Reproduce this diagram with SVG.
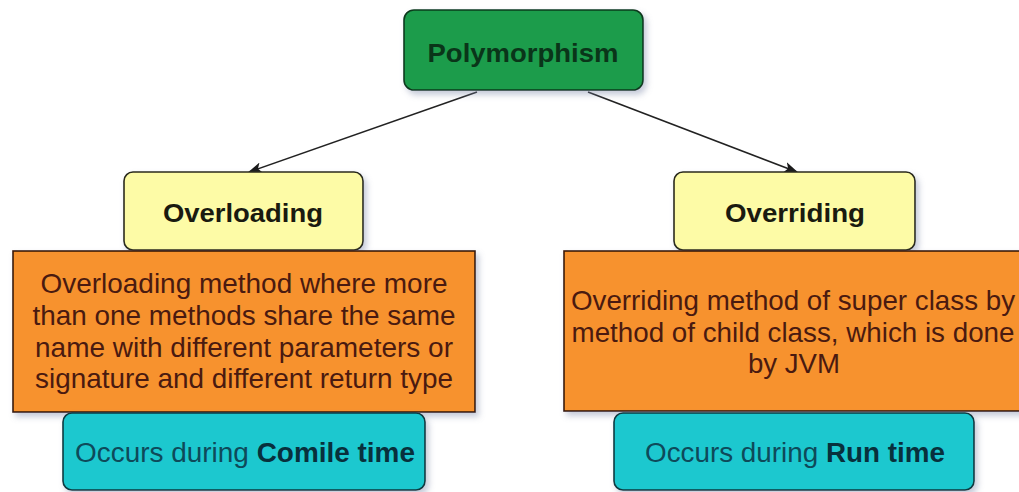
<svg xmlns="http://www.w3.org/2000/svg" width="1019" height="492" viewBox="0 0 1019 492">
  <defs>
    <filter id="sh" x="-10%" y="-10%" width="125%" height="135%">
      <feDropShadow dx="3" dy="4" stdDeviation="3" flood-color="#7a86a8" flood-opacity="0.45"/>
    </filter>
    <marker id="arr" viewBox="0 0 14 11" refX="13" refY="5.5" markerWidth="14" markerHeight="11" markerUnits="userSpaceOnUse" orient="auto">
      <path d="M0,0 L14,5.5 L0,11 L3.5,5.5 Z" fill="#1a1a1a"/>
    </marker>
    <style>
      .t { font-family: "Liberation Sans", Arial, sans-serif; text-anchor: middle; }
      .b { font-weight: bold; }
      .green { fill: #1f9c4c; stroke: #0c3a1c; stroke-width: 1.6; }
      .yellow { fill: #fdfba6; stroke: #2a2a1a; stroke-width: 1.6; }
      .orange { fill: #f7922f; stroke: #3a1a0a; stroke-width: 1.6; }
      .teal { fill: #1fc8cf; stroke: #0c3a40; stroke-width: 1.6; }
      .ot { fill: #4a1a10; font-size: 27.5px; }
      .tt { fill: #0e4a5a; font-size: 27px; }
      .ttb { fill: #08303c; font-weight: bold; }
      .conn { stroke: #222; stroke-width: 1.6; fill: none; }
    </style>
  </defs>
  <rect width="1019" height="492" fill="#ffffff"/>

  <g id="connectors">
    <line class="conn" x1="477" y1="92" x2="249" y2="172" marker-end="url(#arr)"/>
    <line class="conn" x1="588" y1="92" x2="797" y2="172" marker-end="url(#arr)"/>
  </g>

  <g id="polymorphism">
    <rect class="green" x="404" y="10" width="239" height="80" rx="10" filter="url(#sh)"/>
    <text class="t b" x="523" y="62" font-size="26" fill="#0a3519" textLength="191" lengthAdjust="spacingAndGlyphs">Polymorphism</text>
  </g>

  <g id="overloading">
    <rect class="yellow" x="124" y="172" width="239" height="78" rx="9" filter="url(#sh)"/>
    <text class="t b" x="243" y="222" font-size="26.5" fill="#1a1a10" textLength="160" lengthAdjust="spacingAndGlyphs">Overloading</text>
  </g>

  <g id="overriding">
    <rect class="yellow" x="674" y="172" width="241" height="78" rx="9" filter="url(#sh)"/>
    <text class="t b" x="795" y="222" font-size="26.5" fill="#1a1a10" textLength="140" lengthAdjust="spacingAndGlyphs">Overriding</text>
  </g>

  <g id="overloading-desc">
    <rect class="orange" x="13" y="251" width="462" height="161" filter="url(#sh)"/>
    <text class="t ot" x="244" y="293" textLength="407" lengthAdjust="spacingAndGlyphs">Overloading method where more</text>
    <text class="t ot" x="244" y="325" textLength="423" lengthAdjust="spacingAndGlyphs">than one methods share the same</text>
    <text class="t ot" x="244" y="357" textLength="418" lengthAdjust="spacingAndGlyphs">name with different parameters or</text>
    <text class="t ot" x="244" y="388" textLength="418" lengthAdjust="spacingAndGlyphs">signature and different return type</text>
  </g>

  <g id="overriding-desc">
    <rect class="orange" x="564" y="251" width="460" height="160" filter="url(#sh)"/>
    <text class="t ot" x="793" y="310" textLength="444" lengthAdjust="spacingAndGlyphs">Overriding method of super class by</text>
    <text class="t ot" x="793" y="342" textLength="443" lengthAdjust="spacingAndGlyphs">method of child class, which is done</text>
    <text class="t ot" x="794" y="373" textLength="92" lengthAdjust="spacingAndGlyphs">by JVM</text>
  </g>

  <g id="compile-time">
    <rect class="teal" x="63" y="413" width="362" height="77" rx="9" filter="url(#sh)"/>
    <text class="t tt" x="245" y="462" textLength="340" lengthAdjust="spacingAndGlyphs">Occurs during <tspan class="ttb">Comile time</tspan></text>
  </g>

  <g id="run-time">
    <rect class="teal" x="614" y="413" width="360" height="77" rx="9" filter="url(#sh)"/>
    <text class="t tt" x="795" y="462" textLength="300" lengthAdjust="spacingAndGlyphs">Occurs during <tspan class="ttb">Run time</tspan></text>
  </g>
</svg>
